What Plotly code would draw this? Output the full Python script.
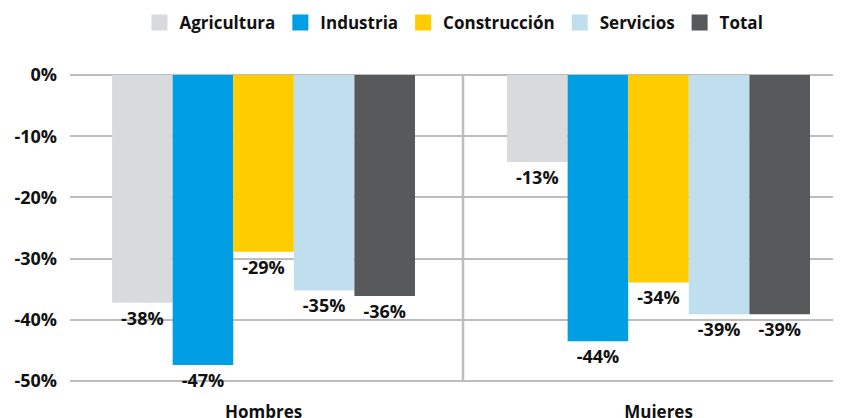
import plotly.graph_objects as go

groups = ["Hombres", "Mujeres"]
sectors = ["Agricultura", "Industria", "Construcción", "Servicios", "Total"]
colors = ["#d9dadb", "#009fe3", "#ffcc00", "#bfdeee", "#58595b"]
# bar lengths (percent change)
values = {
    "Agricultura": [-37.2, -14.2],
    "Industria": [-47.4, -43.5],
    "Construcción": [-28.9, -33.9],
    "Servicios": [-35.2, -39.1],
    "Total": [-36.1, -39.1],
}
# printed labels
labels = {
    "Agricultura": ["-38%", "-13%"],
    "Industria": ["-47%", "-44%"],
    "Construcción": ["-29%", "-34%"],
    "Servicios": ["-35%", "-39%"],
    "Total": ["-36%", "-39%"],
}
tick_vals = [0, -10, -20, -30, -40, -50]
tick_text = ["0%", "-10%", "-20%", "-30%", "-40%", "-50%"]

FONT = "Open Sans"
TXT = "#111111"
GRID = "#bdbdbd"

fig = go.Figure()
for s, c in zip(sectors, colors):
    fig.add_trace(go.Bar(
        x=groups, y=values[s], name=s, marker=dict(color=c, line=dict(width=0)),
        text=labels[s], textposition="outside", cliponaxis=False,
        textfont=dict(family=FONT, size=18, color=TXT, weight=700),
        showlegend=False, legendgroup=s, hoverinfo="skip",
    ))
for s, c in zip(sectors, colors):
    fig.add_trace(go.Scatter(
        x=[None], y=[None], mode="markers", name=s, legendgroup=s,
        marker=dict(symbol="square", size=16, color=c), showlegend=True,
    ))

fig.add_shape(type="line", xref="x", yref="y", x0=0.505, x1=0.505, y0=0, y1=-50,
              line=dict(color=GRID, width=2.5), layer="below")

# page body has an 8px default margin, so the figure is 8px smaller each way
fig.update_layout(
    width=833, height=410,
    margin=dict(l=62, r=0, t=64, b=34, autoexpand=False),
    paper_bgcolor="white", plot_bgcolor="white",
    barmode="group", bargap=0.233, bargroupgap=0,
    font=dict(family=FONT, size=17, color=TXT, weight=700),
    legend=dict(orientation="h", x=0.498, xanchor="center", y=1.157, yanchor="middle",
                font=dict(family=FONT, size=17, color=TXT, weight=700),
                itemwidth=30, traceorder="normal"),
    xaxis=dict(range=[-0.49, 1.462], showgrid=False, zeroline=False, showline=False,
               ticks="", ticklabelstandoff=16,
               tickfont=dict(family=FONT, size=17, color=TXT, weight=700)),
    yaxis=dict(range=[-50.5, 0.5], tickvals=tick_vals, ticktext=tick_text,
               showgrid=True, gridcolor=GRID, gridwidth=2, zeroline=False, showline=False,
               ticks="", ticklabelstandoff=12,
               tickfont=dict(family=FONT, size=18, color=TXT, weight=700)),
)
fig.write_html("out.html")
